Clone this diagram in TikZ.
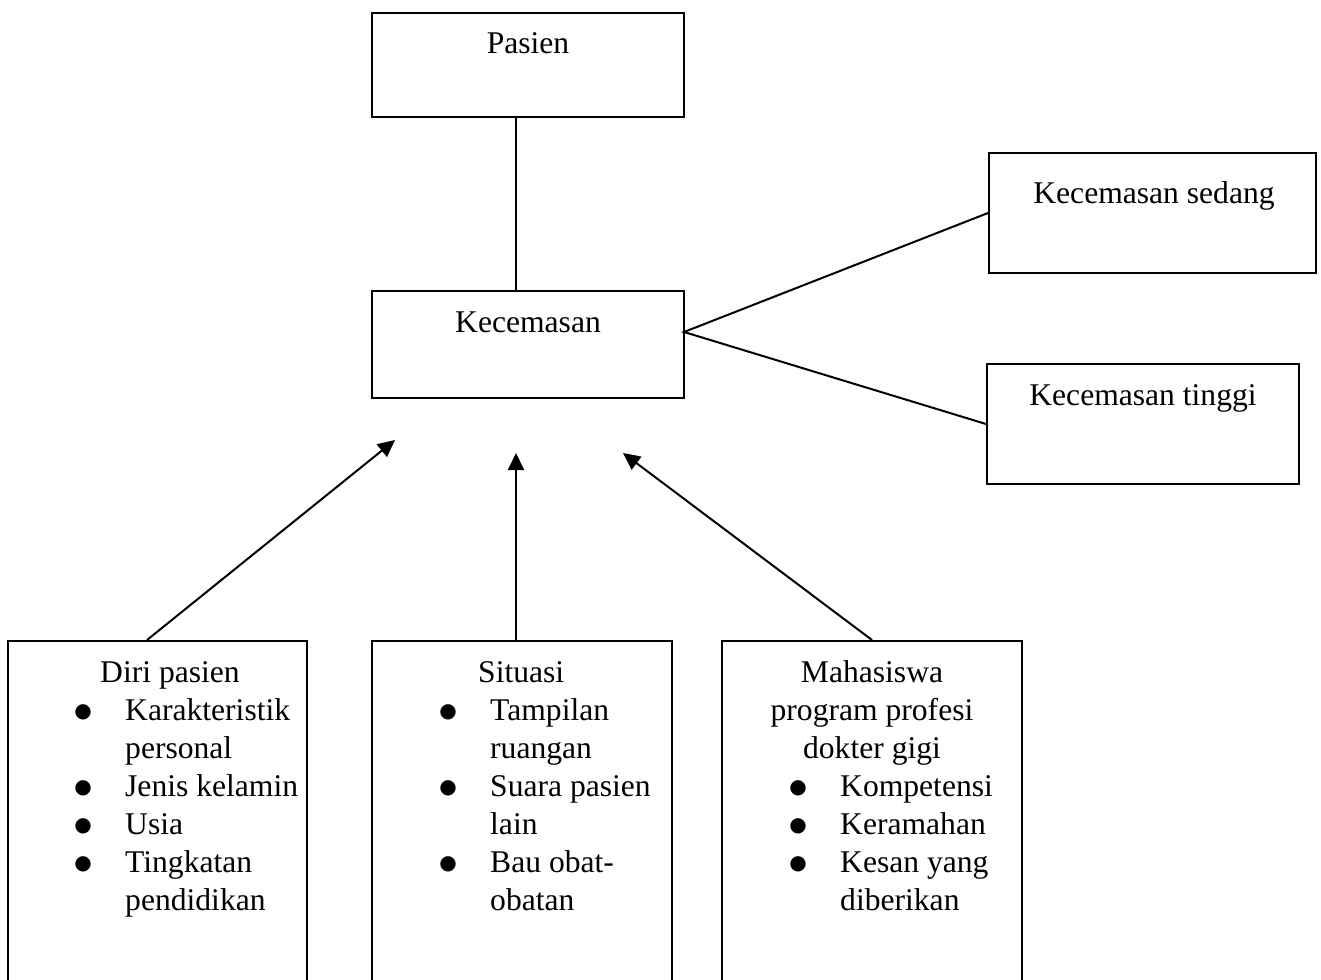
\documentclass[tikz,border=0pt]{standalone}
\usepackage{fontspec}
\setmainfont{Liberation Serif}
\newfontfamily\dejavu{DejaVu Sans}
\usetikzlibrary{arrows.meta}
\newcommand{\bult}{\llap{\raisebox{2.8pt}{\dejavu\fontsize{20pt}{20pt}\selectfont ●}\hspace{33.3pt}}}
\begin{document}
\begin{tikzpicture}[x=1pt,y=-1pt,
  every node/.style={font=\fontsize{31.6pt}{38pt}\selectfont},
  box/.style={draw, line width=2pt, inner sep=0pt, rectangle},
  txt/.style={inner sep=0pt},
  conn/.style={line width=2pt},
  arr/.style={line width=2pt, -{Triangle[length=17pt,width=16pt]}}]
\useasboundingbox (0,0) rectangle (1321,979);
\clip (0,0) rectangle (1321,979);
% boxes
\node[box, minimum width=312pt, minimum height=104pt] (pasien) at (528,65) {};
\node[box, minimum width=312pt, minimum height=107pt] (kec) at (528,344.5) {};
\node[box, minimum width=327pt, minimum height=120pt] (sedang) at (1152.5,213) {};
\node[box, minimum width=312pt, minimum height=120pt] (tinggi) at (1143,424) {};
\node[box, minimum width=299pt, minimum height=380pt] (diri) at (157.5,831) {};
\node[box, minimum width=300pt, minimum height=380pt] (situasi) at (522,831) {};
\node[box, minimum width=300pt, minimum height=380pt] (maha) at (872,831) {};
% texts
\node[txt, anchor=base] (pasien-t) at (528,54) {Pasien};
\node[txt, anchor=base] (kec-t) at (528,332) {Kecemasan};
\node[txt, anchor=base] (sedang-t) at (1154,203) {Kecemasan sedang};
\node[txt, anchor=base] (tinggi-t) at (1143,405) {Kecemasan tinggi};
\node[txt, anchor=base west] (diri-t) at (100,682) {Diri pasien};
\node[txt, anchor=base west] (diri-l) at (125,720) {\begin{tabular}[t]{@{}l@{}}\bult Karakteristik\\ personal\\ \bult Jenis kelamin\\ \bult Usia\\ \bult Tingkatan\\ pendidikan\end{tabular}};
\node[txt, anchor=base west] (situasi-t) at (478,682) {Situasi};
\node[txt, anchor=base west] (situasi-l) at (490,720) {\begin{tabular}[t]{@{}l@{}}\bult Tampilan\\ ruangan\\ \bult Suara pasien\\ lain\\ \bult Bau obat-\\ obatan\end{tabular}};
\node[txt, anchor=base] (maha-t) at (872,682) {\begin{tabular}[t]{@{}c@{}}Mahasiswa\\ program profesi\\ dokter gigi\end{tabular}};
\node[txt, anchor=base west] (maha-l) at (840,796) {\begin{tabular}[t]{@{}l@{}}\bult Kompetensi\\ \bult Keramahan\\ \bult Kesan yang\\ diberikan\end{tabular}};
% connectors
\coordinate (vx) at (516,0);
\coordinate (lx) at (147,0);
\coordinate (kfork) at (684,332);
\coordinate (tipL) at (395,440);
\coordinate (tipM) at (516,453);
\coordinate (tipR) at (623,453);
\draw[conn] (pasien.south -| vx) -- (kec.north -| vx);
\draw[conn] (sedang.west) -- (kfork) -- (tinggi.west);
\draw[arr] (diri.north -| lx) -- (tipL);
\draw[arr] (situasi.north -| vx) -- (tipM);
\draw[arr] (maha.north) -- (tipR);
\end{tikzpicture}
\end{document}
